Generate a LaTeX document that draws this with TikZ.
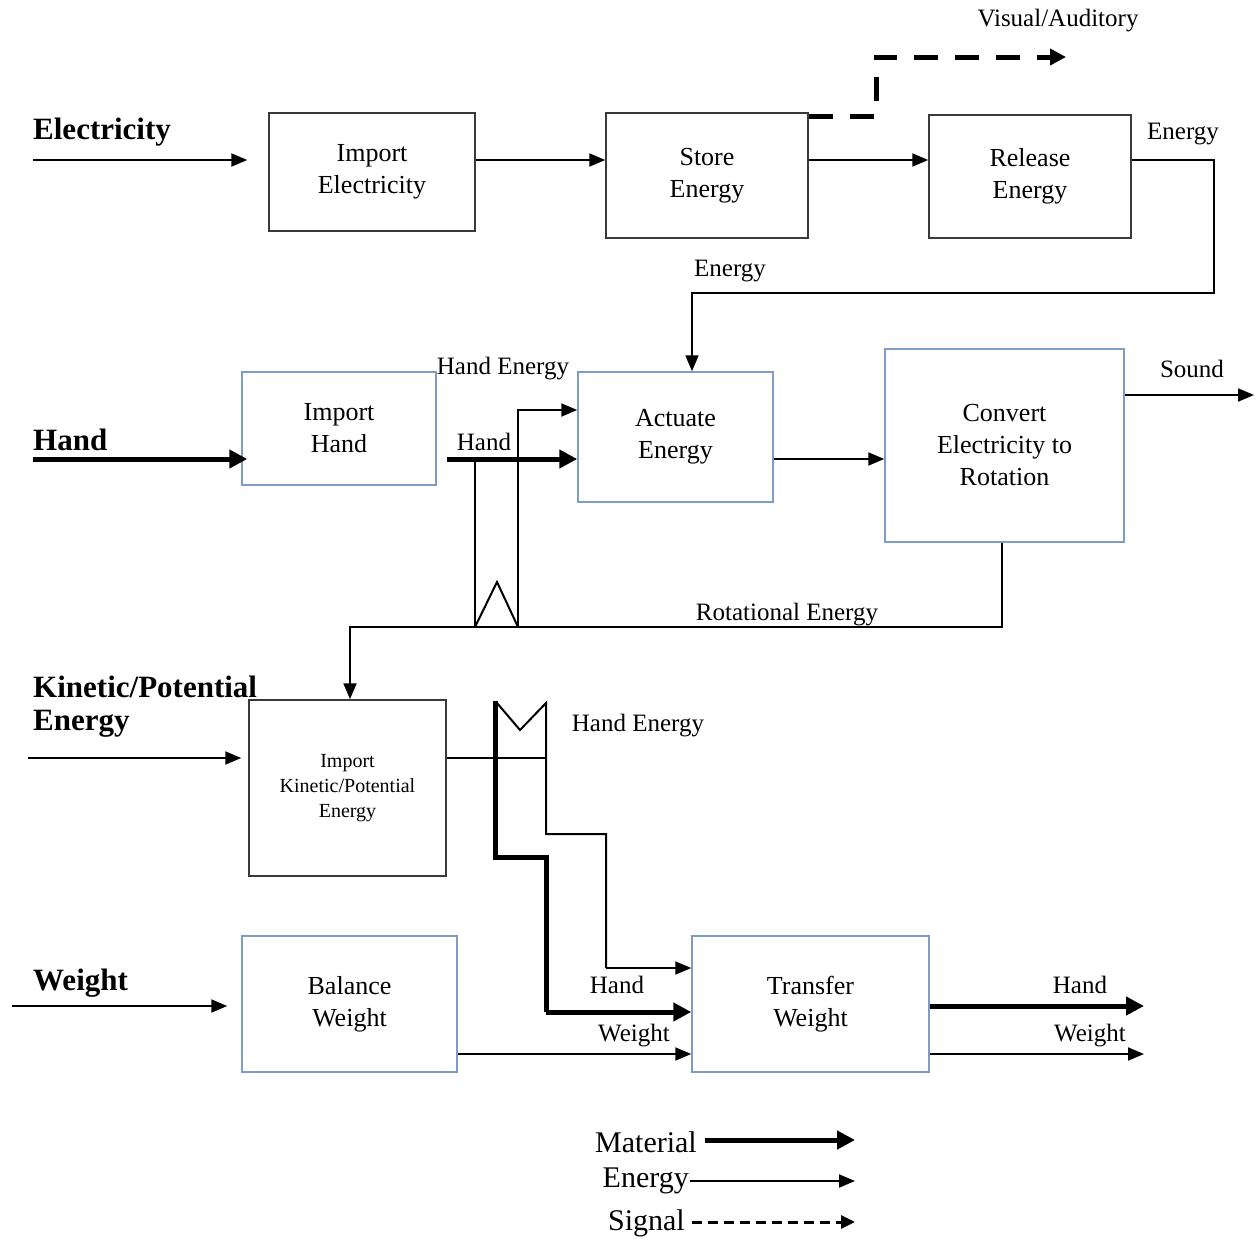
\documentclass[tikz,border=0pt]{standalone}
\usepackage{fontspec}
\setmainfont{Liberation Serif}
\usetikzlibrary{arrows.meta,calc}
\definecolor{boxblue}{HTML}{7F9DC4}
\definecolor{boxgrey}{HTML}{3A3A3A}
\begin{document}
\begin{tikzpicture}[x=1pt,y=-1pt,
  fbox/.style={draw=boxblue,line width=1.5pt,inner sep=0pt,align=center,
    font=\fontsize{26}{32}\selectfont},
  gbox/.style={fbox,draw=boxgrey},
  energy/.style={line width=2pt,-{Triangle[length=16pt,width=13pt]}},
  eline/.style={line width=2pt},
  material/.style={line width=5pt,-{Triangle[length=18pt,width=18pt]}},
  mline/.style={line width=5pt},
  signal/.style={line width=5pt,dash pattern=on 24pt off 17pt,-{Triangle[length=16pt,width=16pt]}},
  lbl/.style={font=\fontsize{25}{30}\selectfont,inner sep=0pt},
  blbl/.style={font=\bfseries\fontsize{31}{37}\selectfont,inner sep=0pt,anchor=west,align=left},
  leg/.style={font=\fontsize{30}{36}\selectfont,inner sep=0pt,anchor=east}]
\useasboundingbox (0,0) rectangle (1256,1243);

% boxes
\node[gbox,minimum width=206pt,minimum height=118pt] (impE) at (372,172) {Import\\Electricity};
\node[gbox,minimum width=202pt,minimum height=125pt] (store) at (707,175.5) {Store\\Energy};
\node[gbox,minimum width=202pt,minimum height=123pt] (rel) at (1030,176.5) {Release\\Energy};
\node[fbox,minimum width=194pt,minimum height=113pt] (impH) at (339,428.5) {Import\\Hand};
\node[fbox,minimum width=195pt,minimum height=130pt] (act) at (675.5,437) {Actuate\\Energy};
\node[fbox,minimum width=239pt,minimum height=193pt] (conv) at (1004.5,445.5) {Convert\\Electricity to\\Rotation};
\node[gbox,minimum width=197pt,minimum height=176pt,font=\fontsize{20}{25}\selectfont] (kp) at (347.5,788) {Import\\Kinetic/Potential\\Energy};
\node[fbox,minimum width=215pt,minimum height=136pt] (bal) at (349.5,1004) {Balance\\Weight};
\node[fbox,minimum width=237pt,minimum height=136pt] (tra) at (810.5,1004) {Transfer\\Weight};

% free-end coordinates
\coordinate (inE) at (33,160);
\coordinate (inH) at (33,459);
\coordinate (inK) at (28,758);
\coordinate (inW) at (12,1006);
\coordinate (outSig) at (1066,57);
\coordinate (outSnd) at (1254,395);
\coordinate (outHand) at (1144,1006);
\coordinate (outW) at (1144,1054);

% row 1
\draw[energy] (inE) -- ($(impE.west|-inE)+(-21,0)$);
\draw[energy] (impE.east|-inE) -- (store.west|-inE);
\draw[energy] (store.east|-inE) -- (rel.west|-inE);
\draw[signal] (store.east|-0,116) -- (876,116) -- (876,57) -- (outSig);
\draw[energy] (rel.east|-inE) -- (1214,160) -- (1214,293) -- (692,293) -- (act.north-|692,0);

% row 2
\draw[material] (inH) -- ($(impH.west|-inH)+(6,0)$);
\draw[material] ($(impH.east|-inH)+(10,0)$) -- (act.west|-inH);
\draw[eline] (475,459) -- (475,627);
\draw[energy] (518,627) -- (518,410) -- (act.west|-0,410);
\draw[eline] (475,627) -- (497,582) -- (518,627);
\draw[energy] (act.east|-inH) -- (conv.west|-inH);
\draw[energy] (conv.east|-outSnd) -- (outSnd);
\draw[energy] (conv.south-|1002,0) -- (1002,627) -- (350,627) -- (kp.north-|350,0);

% row 3
\draw[energy] (inK) -- ($(kp.west|-inK)+(-7,0)$);
\draw[eline] (kp.east|-inK) -- (546,758);
\draw[eline] (497,703) -- (520,730) -- (546,703) -- (546,834) -- (606,834) -- (606,968);
\draw[energy] (606,968) -- (tra.west|-0,968);
\draw[mline] (495,701) -- (495,857) -- (546,857) -- (546,1012);
\draw[material] (546,1012) -- (tra.west|-0,1012);

% row 4
\draw[energy] (inW) -- ($(bal.west|-inW)+(-14,0)$);
\draw[energy] (bal.east|-outW) -- (tra.west|-outW);
\draw[material] (tra.east|-outHand) -- (outHand);
\draw[energy] (tra.east|-outW) -- (outW);

% labels
\node[lbl] (lVis) at (1058,21) {Visual/Auditory};
\node[lbl] (lE1) at (1183,134) {Energy};
\node[lbl] (lE2) at (730,271) {Energy};
\node[blbl] (lElec) at (33,132) {Electricity};
\node[blbl] (lHand) at (33,440) {Hand};
\node[lbl] (lHE1) at (503,369) {Hand Energy};
\node[lbl] (lH1) at (484,442) {Hand};
\node[lbl] (lSnd) at (1192,369) {Sound};
\node[lbl] (lRot) at (787,615) {Rotational Energy};
\node[blbl] (lKP1) at (33,687) {Kinetic/Potential};
\node[blbl] (lKP2) at (33,724) {Energy};
\node[lbl] (lHE2) at (638,726) {Hand Energy};
\node[blbl] (lW) at (33,983) {Weight};
\node[lbl] (lH2) at (617,985) {Hand};
\node[lbl] (lW2) at (634,1036) {Weight};
\node[lbl] (lH3) at (1080,985) {Hand};
\node[lbl] (lW3) at (1090,1036) {Weight};

% legend
\node[leg] (lgM) at (697,1142) {Material};
\node[leg] (lgE) at (689,1181) {Energy};
\node[leg] (lgS) at (685,1223) {Signal};
\coordinate (lgMe) at (855,1140);
\coordinate (lgEe) at (855,1181);
\coordinate (lgSe) at (855,1222);
\draw[material] ($(lgM.east)+(8,-2)$) -- (lgMe);
\draw[energy] ($(lgE.east)+(1,0)$) -- (lgEe);
\draw[line width=3pt,dash pattern=on 10pt off 6pt,-{Triangle[length=14pt,width=13pt]}] ($(lgS.east)+(7,-1)$) -- (lgSe);
\end{tikzpicture}
\end{document}
